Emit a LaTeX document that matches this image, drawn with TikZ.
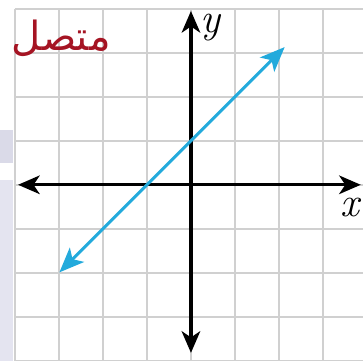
\documentclass[tikz,border=0pt]{standalone}
\usepackage{fontspec}
\TeXXeTstate=1
\newfontfamily\arabicfont[Script=Arabic]{DejaVu Sans}
\usetikzlibrary{arrows.meta}
\definecolor{gridgray}{RGB}{208,208,208}
\definecolor{lineblue}{RGB}{35,170,220}
\definecolor{darkred}{RGB}{165,20,35}
\definecolor{lav1}{RGB}{218,218,232}
\definecolor{lav2}{RGB}{228,228,240}
\tikzset{
  gridline/.style={draw=gridgray, line width=1.1pt},
  axisline/.style={draw=black, line width=2.1pt, -{Stealth[length=14pt,width=12pt,inset=4pt]}},
  bluearrow/.style={draw=lineblue, line width=2pt, {Stealth[length=16pt,width=13pt,inset=4pt]}-{Stealth[length=16pt,width=13pt,inset=4pt]}},
  axislabel/.style={font=\fontsize{27}{27}\selectfont\itshape, inner sep=0pt}
}
\begin{document}
\begin{tikzpicture}
\useasboundingbox (-4.34,-4.0) rectangle (3.91,4.20);
\fill[white] (-4.34,-4.0) rectangle (3.91,4.20);
% left shaded strip
\fill[lav1] (-4.34,1.25) rectangle (-4.04,0.5);
\fill[lav2] (-4.34,0.12) rectangle (-4.04,-4.0);
% grid
\foreach \x in {-4,...,3} \draw[gridline] (\x,-4) -- (\x,4);
\foreach \y in {-4,...,4} \draw[gridline] (-4,\y) -- (3.91,\y);
% axes
\coordinate (xl) at (-3.93,0);
\coordinate (xr) at (3.86,0);
\coordinate (yb) at (0,-3.82);
\coordinate (yt) at (0,3.95);
\coordinate (o) at (0,0);
\draw[axisline] (o) -- (xr);
\draw[axisline] (o) -- (xl);
\draw[axisline] (o) -- (yt);
\draw[axisline] (o) -- (yb);
% line
\coordinate (p1) at (-2.99,-1.99);
\coordinate (p2) at (2.13,3.13);
\draw[bluearrow] (p1) -- (p2);
% labels
\node[axislabel] (ylab) at (0.44,3.57) {y};
\node[axislabel] (xlab) at (3.62,-0.52) {x};
\node[text=darkred, font=\arabicfont\fontsize{26}{26}\selectfont, inner sep=0pt] (word) at (-2.95,3.33) {\beginR متصل\endR};
\end{tikzpicture}
\end{document}
